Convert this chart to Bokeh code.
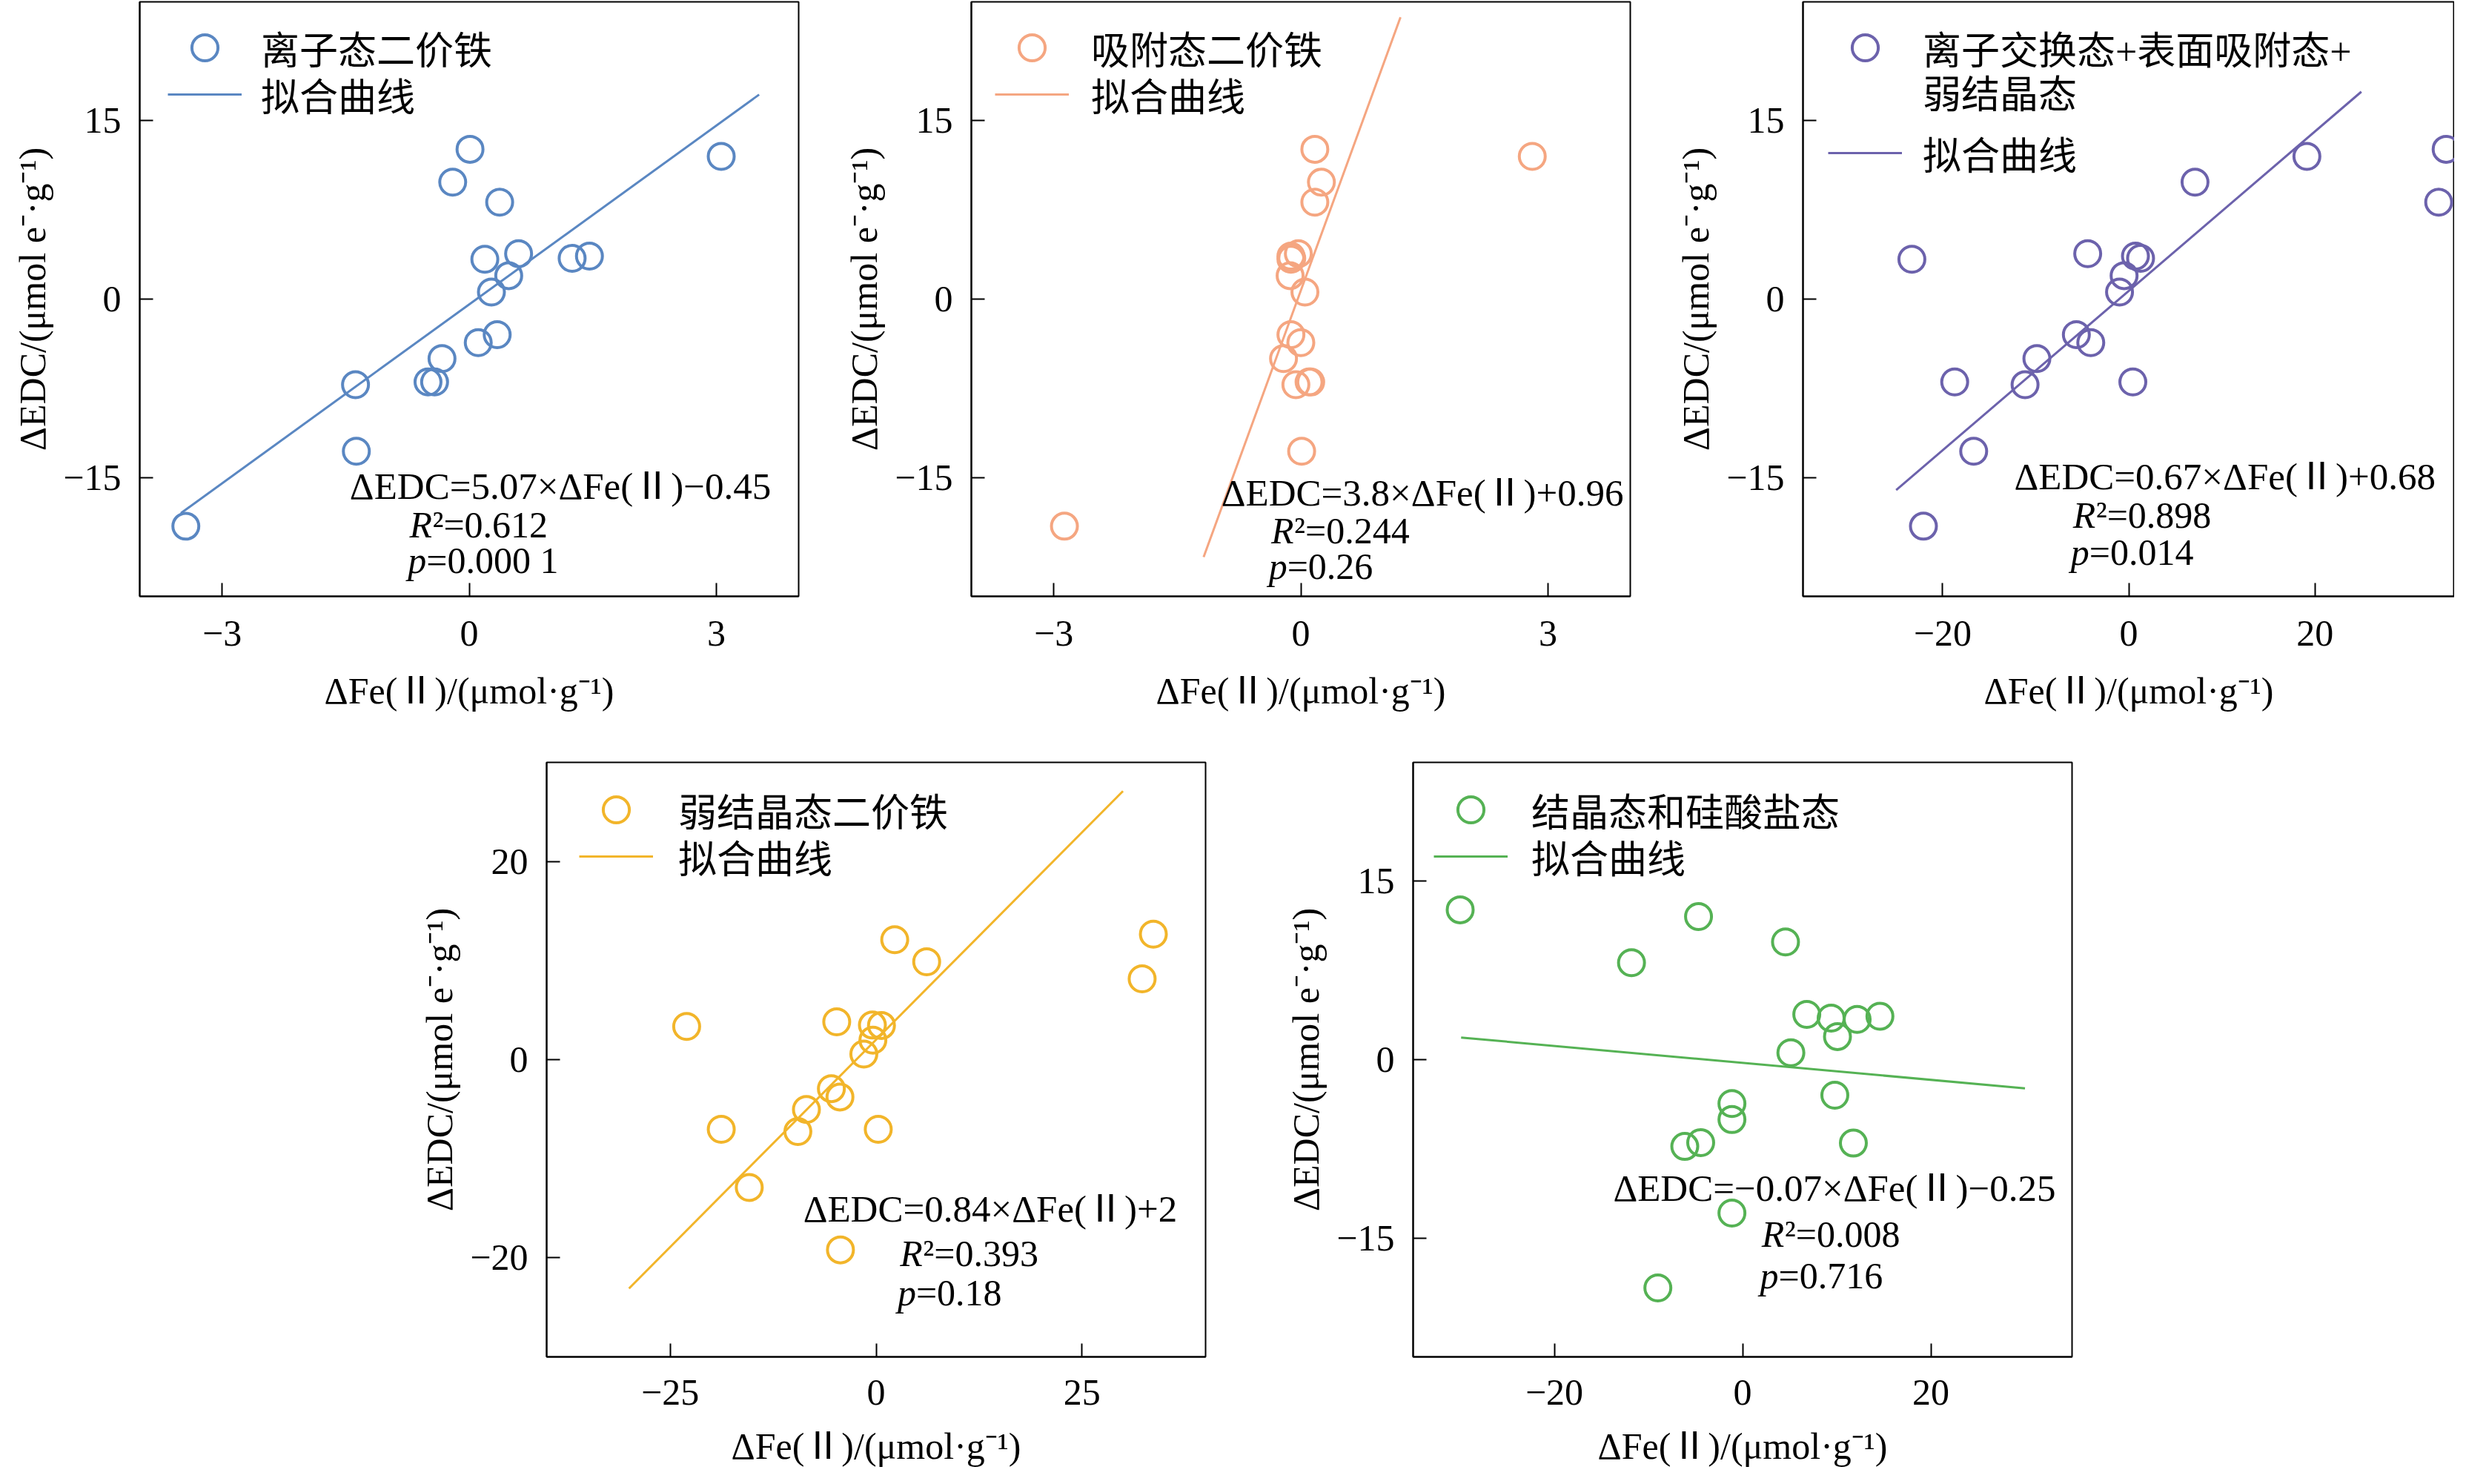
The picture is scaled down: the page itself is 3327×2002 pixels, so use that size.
from bokeh.plotting import figure
from bokeh.models import Range1d, FixedTicker, Label, Legend, LegendItem, Spacer
from bokeh.layouts import row, column
from bokeh.embed import file_html
from bokeh.resources import INLINE

# ---------------- data ----------------
names = ["离子态二价铁", "吸附态二价铁", "离子交换态+表面吸附态+", "弱结晶态二价铁", "结晶态和硅酸盐态"]
name3_line2 = "弱结晶态"
fit_label = "拟合曲线"
colors = ["#5A87C2", "#F5A681", "#6C62AC", "#F2B52A", "#55B254"]

x1 = [-3.44, -1.38, -1.37, -0.50, -0.42, -0.33, -0.20, 0.01, 0.11, 0.19, 0.27, 0.34, 0.37, 0.48, 0.60, 1.25, 1.46, 3.06]
y1 = [-19.1, -7.2, -12.8, -6.97, -6.97, -5.0, 9.84, 12.6, -3.66, 3.35, 0.59, -2.99, 8.15, 1.97, 3.82, 3.43, 3.62, 12.0]

x2 = [-2.87, 0.01, -0.06, 0.10, 0.12, -0.21, 0.00, -0.12, 0.05, -0.13, -0.12, -0.11, -0.12, -0.03, 0.17, 0.25, 0.17, 2.81]
y2 = [-19.1, -12.8, -7.2, -6.97, -6.97, -5.0, -3.66, -2.99, 0.59, 1.97, 3.35, 3.43, 3.62, 3.82, 8.15, 9.84, 12.6, 12.0]

x3 = [-22.06, -16.66, -11.14, -18.7, 0.44, -9.87, -4.08, -5.63, -0.99, -0.5, -23.3, 1.27, 0.72, -4.41, 33.3, 7.12, 19.14, 34.1]
y3 = [-19.1, -12.8, -7.2, -6.97, -6.97, -5.0, -3.66, -2.99, 0.59, 1.97, 3.35, 3.43, 3.62, 3.82, 8.15, 9.84, 12.0, 12.6]

x4 = [-4.33, -15.4, -9.5, -18.8, 0.26, -8.46, -4.39, -5.43, -1.49, -0.39, -23.0, 0.65, -0.45, -4.78, 32.3, 6.14, 2.26, 33.66]
y4 = [-19.2, -12.9, -7.26, -7.03, -7.03, -5.03, -3.77, -2.93, 0.56, 1.96, 3.35, 3.45, 3.49, 3.82, 8.15, 9.87, 12.1, 12.66]

x5 = [-9.0, -1.13, -6.14, -4.45, 11.77, -1.13, -1.13, 9.80, 5.13, 10.08, 12.17, 9.41, 14.59, 6.82, -11.8, 4.56, -4.68, -30.0]
y5 = [-19.2, -12.9, -7.3, -6.98, -7.02, -5.04, -3.69, -2.99, 0.58, 1.94, 3.38, 3.49, 3.65, 3.80, 8.15, 9.9, 12.03, 12.6]

fit_x1 = [-3.50, 3.52]
fit_y1 = [-18.0, 17.2]
fit_x2 = [-1.18, 1.21]
fit_y2 = [-21.7, 23.7]
fit_x3 = [-24.99, 24.99]
fit_y3 = [-16.06, 17.44]
fit_x4 = [-30.0, 29.97]
fit_y4 = [-23.1, 27.1]
fit_x5 = [-29.9, 30.0]
fit_y5 = [1.86, -2.41]

equations = ["ΔEDC=5.07×ΔFe(Ⅱ)−0.45", "ΔEDC=3.8×ΔFe(Ⅱ)+0.96", "ΔEDC=0.67×ΔFe(Ⅱ)+0.68",
             "ΔEDC=0.84×ΔFe(Ⅱ)+2", "ΔEDC=−0.07×ΔFe(Ⅱ)−0.25"]
r2_text = ["²=0.612", "²=0.244", "²=0.898", "²=0.393", "²=0.008"]
p_text = ["=0.000 1", "=0.26", "=0.014", "=0.18", "=0.716"]

x_ranges = [(-4, 4), (-4, 4), (-35, 35), (-40, 40), (-35, 35)]
y_ranges = [(-25, 25), (-25, 25), (-25, 25), (-30, 30), (-25, 25)]
x_ticks = [[-3, 0, 3], [-3, 0, 3], [-20, 0, 20], [-25, 0, 25], [-20, 0, 20]]
y_ticks = [[-15, 0, 15], [-15, 0, 15], [-15, 0, 15], [-20, 0, 20], [-15, 0, 15]]

x_label = "ΔFe(Ⅱ)/(μmol·g⁻¹)"
y_label = "ΔEDC/(μmol e⁻·g⁻¹)"

# annotation anchors (data units): equation, R2 line, p line
eq_pos = [(-1.45, -15.75), (-0.965, -16.3), (-12.3, -14.96), (-8.85, -15.1), (-13.75, -10.8)]
r2_pos = [(-0.725, -19.0), (-0.36, -19.5), (-6.0, -18.2), (2.9, -19.55), (2.03, -14.7)]
pv_pos = [(-0.745, -22.0), (-0.39, -22.5), (-6.23, -21.3), (2.6, -23.5), (1.86, -18.2)]

# legend item centres (px below the frame top), glyph left (px), label standoff (px)
legend_centres = [[62, 125], [62, 125], [62, 121, 204], [64, 127], [64, 127]]
legend_left = [38, 32, 34, 44, 28]
legend_standoff = [26, 30, 28, 34, 32]

SERIF = "Liberation Serif, Noto Sans CJK SC"
SERIF_ONLY = "Liberation Serif"
FS = "50px"
FRAME_H = 802


def minus(v):
    return str(v).replace("-", "−")


def add_legend_item(p, label, rend, centre, left, standoff):
    gh = 88
    leg = Legend(items=[LegendItem(label=label, renderers=[rend])],
                 location=(left, FRAME_H - centre - gh // 2),
                 margin=0, padding=0, glyph_width=100, glyph_height=gh,
                 label_height=20, spacing=0, label_standoff=standoff,
                 label_text_font=SERIF, label_text_font_size="52px",
                 label_text_color="black", label_text_baseline="middle",
                 border_line_alpha=0, background_fill_alpha=0)
    p.add_layout(leg)


def make_panel(i, xs, ys, fx, fy, width, height, b_left, b_right, b_bottom, tick_so, lab_so):
    p = figure(width=width, height=height,
               x_range=Range1d(*x_ranges[i]), y_range=Range1d(*y_ranges[i]),
               output_backend="svg", toolbar_location=None,
               min_border_left=b_left, min_border_right=b_right,
               min_border_top=2, min_border_bottom=b_bottom)
    p.xgrid.visible = False
    p.ygrid.visible = False
    p.outline_line_color = "black"
    p.outline_line_width = 2
    p.outline_line_alpha = 1
    p.background_fill_color = "white"
    p.border_fill_color = "white"

    for ax in (p.xaxis[0], p.yaxis[0]):
        ax.axis_line_width = 2
        ax.axis_line_color = "black"
        ax.major_tick_line_width = 2
        ax.major_tick_line_color = "black"
        ax.major_tick_in = 18
        ax.major_tick_out = 0
        ax.minor_tick_in = 0
        ax.minor_tick_out = 0
        ax.major_label_text_font = SERIF_ONLY
        ax.major_label_text_font_size = FS
        ax.major_label_text_color = "black"
        ax.axis_label_text_font = SERIF
        ax.axis_label_text_font_size = FS
        ax.axis_label_text_font_style = "normal"
        ax.axis_label_text_color = "black"

    p.xaxis.ticker = FixedTicker(ticks=x_ticks[i])
    p.yaxis.ticker = FixedTicker(ticks=y_ticks[i])
    p.xaxis.major_label_overrides = {t: minus(t) for t in x_ticks[i]}
    p.yaxis.major_label_overrides = {t: minus(t) for t in y_ticks[i]}
    p.xaxis.major_label_standoff = tick_so
    p.yaxis.major_label_standoff = 25
    p.xaxis.axis_label_standoff = lab_so
    p.yaxis.axis_label_standoff = 10
    p.xaxis.axis_label = x_label
    p.yaxis.axis_label = y_label

    c = colors[i]
    sc = p.scatter(xs, ys, marker="circle", size=35, fill_alpha=0,
                   line_color=c, line_width=4)
    ln = p.line(fx, fy, line_color=c, line_width=3)

    cs = legend_centres[i]
    lf, so = legend_left[i], legend_standoff[i]
    add_legend_item(p, names[i], sc, cs[0], lf, so)
    if i == 2:
        blank = p.scatter([], [], marker="circle", size=1, fill_alpha=0, line_alpha=0)
        add_legend_item(p, name3_line2, blank, cs[1], lf, so)
        add_legend_item(p, fit_label, ln, cs[2], lf, so)
    else:
        add_legend_item(p, fit_label, ln, cs[1], lf, so)

    ex, ey = eq_pos[i]
    p.add_layout(Label(x=ex, y=ey, text=equations[i], text_font=SERIF,
                       text_font_size="51px", text_baseline="middle", text_align="left",
                       text_color="black"))
    rx, ry = r2_pos[i]
    p.add_layout(Label(x=rx, y=ry, text="R", text_font=SERIF_ONLY, text_font_style="italic",
                       text_font_size=FS, text_baseline="middle", text_align="left",
                       text_color="black"))
    p.add_layout(Label(x=rx, y=ry, x_offset=31, text=r2_text[i], text_font=SERIF_ONLY,
                       text_font_size=FS, text_baseline="middle", text_align="left",
                       text_color="black"))
    px_, py_ = pv_pos[i]
    p.add_layout(Label(x=px_, y=py_, text="p", text_font=SERIF_ONLY, text_font_style="italic",
                       text_font_size=FS, text_baseline="middle", text_align="left",
                       text_color="black"))
    p.add_layout(Label(x=px_, y=py_, x_offset=25, text=p_text[i], text_font=SERIF_ONLY,
                       text_font_size=FS, text_baseline="middle", text_align="left",
                       text_color="black"))
    return p


H1 = 2 + FRAME_H + 222
H2 = 2 + FRAME_H + 156
f1 = make_panel(0, x1, y1, fit_x1, fit_y1, 1122, H1, 188, 45, 222, 33, 30)
f2 = make_panel(1, x2, y2, fit_x2, fit_y2, 1122, H1, 188, 45, 222, 33, 30)
f3 = make_panel(2, x3, y3, fit_x3, fit_y3, 1067, H1, 188, 0, 222, 33, 30)
f4 = make_panel(3, x4, y4, fit_x4, fit_y4, 1169, H2, 180, 100, 156, 31, 25)
f5 = make_panel(4, x5, y5, fit_x5, fit_y5, 1109, H2, 180, 40, 156, 31, 25)

layout = column(row(f1, f2, f3), row(Spacer(width=557, height=H2), f4, f5))

open("out.html", "w").write(file_html(layout, INLINE))
